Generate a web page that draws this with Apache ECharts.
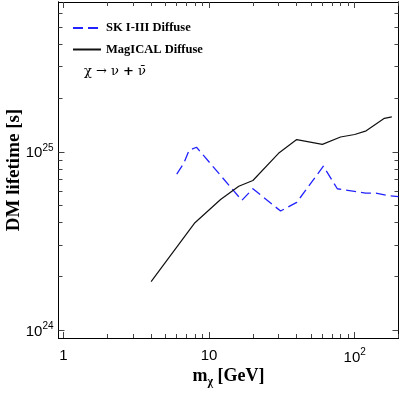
<!DOCTYPE html>
<html>
<head>
<meta charset="utf-8">
<script src="https://cdn.jsdelivr.net/npm/echarts@6/dist/echarts.min.js"></script>
<style>
html,body{margin:0;padding:0;background:#fff;}
#chart{width:409px;height:394px;}
</style>
</head>
<body>
<div id="chart"></div>
<script>
// ---- data ----
const skMass = [6.0, 6.7, 7.3, 8.2, 16.8, 20, 31, 40, 61, 76, 119, 140, 164, 200];
const skLifetime = [7.5e24, 8.6e24, 1.02e25, 1.06e25, 5.34e24, 6.2e24, 4.65e24, 5.2e24, 8.3e24, 6.2e24, 5.86e24, 5.86e24, 5.7e24, 5.6e24];
const magMass = [4, 8, 12, 16, 20, 30, 40, 60, 80, 100, 120, 160, 180];
const magLifetime = [1.87e24, 4.0e24, 5.4e24, 6.4e24, 6.9e24, 9.8e24, 1.17e25, 1.10e25, 1.21e25, 1.25e25, 1.31e25, 1.54e25, 1.57e25];
const xMajorTicks = [1, 10, 100];
const xMinorTicks = [2,3,4,5,6,7,8,9,20,30,40,50,60,70,80,90,200];
const yMajorTicks = [1e24, 1e25];
const yMinorTicks = [2e24,3e24,4e24,5e24,6e24,7e24,8e24,9e24,2e25,3e25,4e25,5e25,6e25];
const seriesNames = ['SK I-III Diffuse', 'MagICAL Diffuse'];

const X_MIN = 0.925, X_MAX = 200, Y_MIN = 9.02e23, Y_MAX = 6.92e25;

function xFmt(v){
  const e = Math.round(Math.log10(v));
  if (e === 0) return '1';
  if (e === 1) return '10';
  return '{b|10}{s|' + e + '}';
}
function yFmt(v){
  const e = Math.round(Math.log10(v));
  return '{b|10}{s|' + e + '}';
}
const labelRich = {
  b:{fontSize:15, lineHeight:18, verticalAlign:'bottom', fontFamily:'Liberation Sans', color:'#000'},
  s:{fontSize:10, lineHeight:18, verticalAlign:'top', fontFamily:'Liberation Sans', color:'#000'}
};

function xAxisDef(pos, ticks, len, labels){
  return {
    type:'log', logBase:10, min:X_MIN, max:X_MAX, position:pos, gridIndex:0,
    axisLine:{show:true, onZero:false, lineStyle:{color:'#000', width:1}},
    axisTick:{show:true, inside:true, length:len, customValues:ticks, lineStyle:{color:'#444', width:1}},
    axisLabel:{show:labels, customValues:ticks, formatter:xFmt, margin:9, fontSize:15, lineHeight:18, fontFamily:'Liberation Sans', color:'#000', rich:labelRich},
    splitLine:{show:false}, minorTick:{show:false},
    name: labels ? 'm{sub|χ} [GeV]' : '',
    nameLocation:'middle', nameGap:26, nameMoveOverlap:false,
    nameTextStyle:{fontSize:18, fontWeight:'bold', fontFamily:'Liberation Serif', color:'#000',
      rich:{sub:{fontSize:12, fontWeight:'bold', fontFamily:'Liberation Serif', verticalAlign:'top', padding:[12,0,0,0]}}}
  };
}
function yAxisDef(pos, ticks, len, labels){
  return {
    type:'log', logBase:10, min:Y_MIN, max:Y_MAX, position:pos, gridIndex:0,
    axisLine:{show:true, onZero:false, lineStyle:{color:'#000', width:1}},
    axisTick:{show:true, inside:true, length:len, customValues:ticks, lineStyle:{color:'#444', width:1}},
    axisLabel:{show:labels, customValues:ticks, formatter:yFmt, margin:5, fontSize:15, lineHeight:18, fontFamily:'Liberation Sans', color:'#000', rich:labelRich},
    splitLine:{show:false}, minorTick:{show:false},
    name: labels ? 'DM lifetime [s]' : '',
    nameLocation:'middle', nameGap:35, nameRotate:90, nameMoveOverlap:false,
    nameTextStyle:{fontSize:19, fontWeight:'bold', fontFamily:'Liberation Serif', color:'#000'}
  };
}

const chart = echarts.init(document.getElementById('chart'), null, {renderer:'canvas'});
chart.setOption({
  animation:false,
  backgroundColor:'#fff',
  grid:{left:58.5, right:10.5, top:2, bottom:56, containLabel:false, outerBoundsMode:'none'},
  xAxis:[
    xAxisDef('bottom', xMajorTicks, 6, true),
    xAxisDef('top', xMajorTicks, 6, false),
    xAxisDef('bottom', xMinorTicks, 4, false),
    xAxisDef('top', xMinorTicks, 4, false)
  ],
  yAxis:[
    yAxisDef('left', yMajorTicks, 6, true),
    yAxisDef('right', yMajorTicks, 6, false),
    yAxisDef('left', yMinorTicks, 4, false),
    yAxisDef('right', yMinorTicks, 4, false)
  ],
  legend:{
    orient:'vertical', left:72, top:21.5, padding:0, itemWidth:28, itemHeight:12, itemGap:8.5,
    itemStyle:{opacity:0},
    textStyle:{fontSize:12.5, fontWeight:'bold', fontFamily:'Liberation Serif', color:'#000'},
    data:seriesNames
  },
  graphic:[{
    type:'text', left:84, top:65,
    style:{text:'χ → ν {b|+} ν̄', fontSize:13, fontFamily:'DejaVu Serif', fill:'#000',
      rich:{b:{fontSize:13, fontWeight:'bold', fontFamily:'DejaVu Sans'}}}
  }],
  series:[
    {
      name:seriesNames[0], type:'line', xAxisIndex:0, yAxisIndex:0,
      data: skMass.map((m,i)=>[m, skLifetime[i]]),
      showSymbol:false, symbol:'none',
      lineStyle:{color:'#2222ff', width:1.3, type:[10,5]},
      itemStyle:{color:'#2222ff'}
    },
    {
      name:seriesNames[1], type:'line', xAxisIndex:0, yAxisIndex:0,
      data: magMass.map((m,i)=>[m, magLifetime[i]]),
      showSymbol:false, symbol:'none',
      lineStyle:{color:'#111', width:1.2},
      itemStyle:{color:'#111'}
    }
  ]
});
</script>
</body>
</html>
